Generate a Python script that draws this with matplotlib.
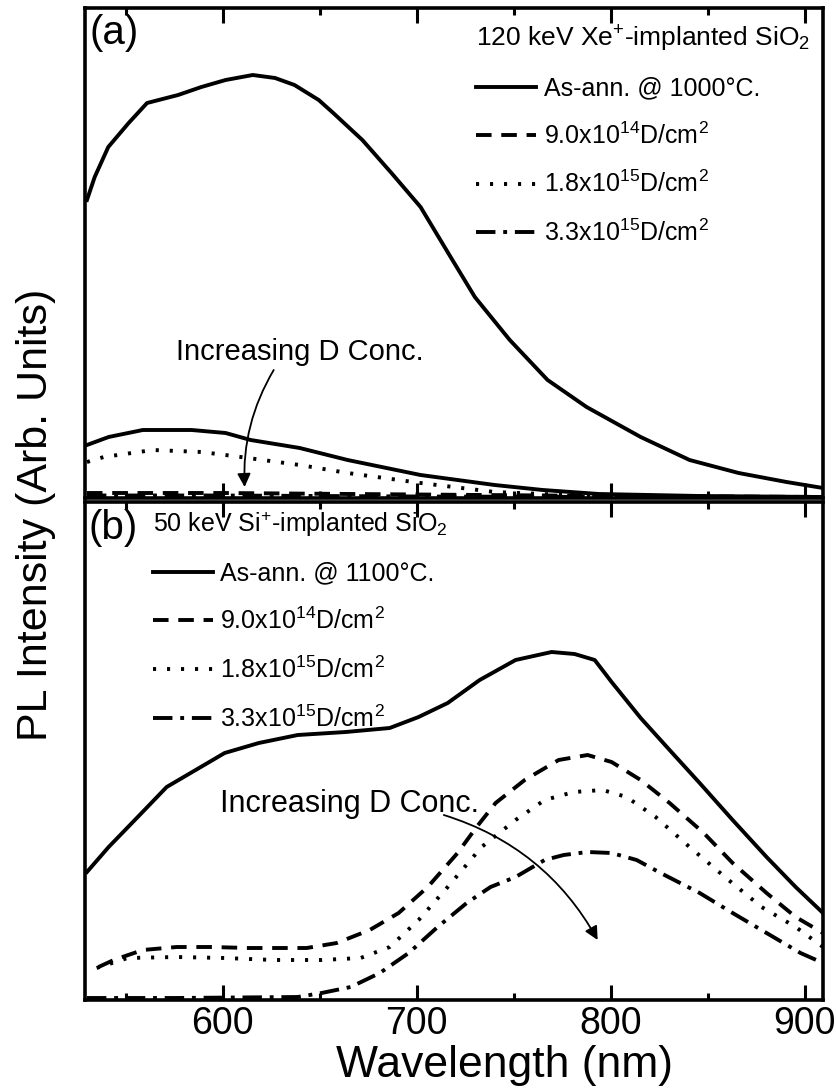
import numpy as np
import matplotlib
matplotlib.use('Agg')
import matplotlib.pyplot as plt
from matplotlib.ticker import MultipleLocator

plt.rcParams['font.family'] = ['Liberation Sans', 'DejaVu Sans']
plt.rcParams['mathtext.fontset'] = 'custom'
plt.rcParams['mathtext.rm'] = 'Liberation Sans'
plt.rcParams['mathtext.it'] = 'Liberation Sans:italic'
plt.rcParams['mathtext.bf'] = 'Liberation Sans:bold'

# ---- panel (a): 120 keV Xe+ implanted SiO2 ----
wl_a_ann = [530, 534, 541, 551.5, 561, 577, 589, 601.5, 615.5, 627, 637, 649.5, 657, 672, 687,
            702, 717.5, 730, 748, 767.5, 787.6, 815.5, 840.7, 866, 890.7, 909.5]
pl_a_ann = [298, 321, 351, 375, 395, 403, 411, 418, 423, 420, 413, 398, 385, 358, 325,
            291, 241, 201, 158, 118, 91, 61, 38, 25, 16, 10]
wl_a_d1 = [530, 541.2, 558.8, 584, 601.5, 614.4, 639.7, 664.4, 702, 740.2, 765, 794, 845.9, 909.5]
pl_a_d1 = [53, 61, 68, 68, 65, 58, 50, 38, 23, 13, 8, 4, 2, 1]
wl_a_d2 = [530, 538.7, 563.9, 589.2, 609.3, 639.7, 664.4, 702, 740.2, 777.8, 802.6, 845.9, 909.5]
pl_a_d2 = [36, 41, 48, 46, 41, 33, 25, 15, 6, 3, 1, 1, 0.5]
wl_a_d3 = [530, 600, 700, 800, 909.5]
pl_a_d3 = [2.5, 2.5, 1.5, 1, 0.5]
wl_a_d4 = [530, 600, 700, 800, 909.5]
pl_a_d4 = [5, 5, 3.5, 2, 1]

# ---- panel (b): 50 keV Si+ implanted SiO2 ----
wl_b_ann = [530, 541.2, 556.2, 571.1, 588.7, 601, 618.6, 638.7, 663.4, 686.1, 701, 716, 732.5,
            751, 769.6, 781.4, 791.8, 800.5, 815.5, 830.4, 845.9, 862.9, 880.4, 895.4, 909.5]
pl_b_ann = [128, 153, 183, 213, 233, 247, 257, 265, 268, 272, 283, 297, 320,
            340, 348, 346, 340, 318, 282, 250, 217, 180, 143, 113, 87]
wl_b_d1 = [536, 543.8, 558.8, 576.3, 593.8, 613.4, 643.3, 658.8, 675.8, 690.7, 705.7, 721.1, 730.9,
           740.7, 755.7, 773.2, 788.1, 800.5, 815.5, 830.4, 848, 862.9, 880.4, 895.4, 909.5]
pl_b_d1 = [33, 40, 50, 53, 53, 52, 52, 57, 70, 87, 113, 147, 173,
           197, 220, 240, 245, 238, 220, 197, 167, 137, 107, 83, 67]
wl_b_d2 = [535, 551, 576.3, 601, 626.3, 651, 671.1, 686.1, 701, 716, 733.5, 751, 766, 781,
           795.9, 808.2, 823.2, 840.7, 860.8, 877.8, 895.4, 909.5]
pl_b_d2 = [32, 42, 43, 42, 40, 40, 42, 53, 80, 113, 153, 180, 200, 208,
           210, 203, 183, 153, 120, 93, 73, 53]
wl_b_d3 = [530, 576, 638.7, 651, 666, 681, 695.9, 710.8, 725.8, 738.1, 751, 766, 775.8, 788.1,
           800.5, 813.4, 825.8, 845.9, 862.9, 880.4, 897.9, 909.5]
pl_b_d3 = [2, 2, 3, 7, 13, 27, 47, 73, 97, 113, 123, 140, 145, 148,
           147, 140, 127, 107, 87, 67, 47, 37]

labels = ['9.0x10$^{14}$D/cm$^{2}$', '1.8x10$^{15}$D/cm$^{2}$', '3.3x10$^{15}$D/cm$^{2}$']

DASH = (4, 2.5)
DOT = (0.8, 2.8)
DASHDOT = (5, 2, 1, 2)
lw = 2.8

fig = plt.figure(figsize=(8.36, 10.89), dpi=100)
ax1 = fig.add_axes([85/836, 1-498/1089, 738/836, 490/1089])
ax2 = fig.add_axes([85/836, 1-1000/1089, 738/836, 498/1089])

#==============================================================================
l0, = ax1.plot(wl_a_ann, pl_a_ann, 'k-', lw=lw)
ax1.plot(wl_a_d1, pl_a_d1, 'k-', lw=lw)
l2, = ax1.plot(wl_a_d2, pl_a_d2, 'k', lw=lw, dashes=DOT)
l3, = ax1.plot(wl_a_d3, pl_a_d3, 'k', lw=lw, dashes=DASHDOT)
ax1.plot(wl_a_d4, pl_a_d4, 'k', lw=lw, dashes=DASH)
l1, = ax1.plot([], [], 'k', lw=lw, dashes=DASH)
leg = ax1.legend([l0, l1, l2, l3], ['As-ann. @ 1000°C.'] + labels,
                 title='120 keV Xe$^{+}$-implanted SiO$_{2}$', alignment='left',
                 loc='upper left', bbox_to_anchor=(0.53, 0.967), frameon=False,
                 fontsize=18, title_fontsize=19, handlelength=2.4, handletextpad=0.3,
                 labelspacing=0.88, borderpad=0, borderaxespad=0)
ax1.text(0.006, 0.987, '(a)', transform=ax1.transAxes, va='top', ha='left', fontsize=29)
ax1.text(300/1.94 + 485, 146, 'Increasing D Conc.', ha='center', va='center', fontsize=21)
ax1.annotate('', xy=(611.3, 11), xytext=(626.3, 128),
             arrowprops=dict(arrowstyle='-|>', color='k', lw=1.3, mutation_scale=20,
                             connectionstyle='arc3,rad=0.15', shrinkA=0, shrinkB=0))
ax1.set_ylim(0, 490)
#==============================================================================
l0, = ax2.plot(wl_b_ann, pl_b_ann, 'k-', lw=lw)
l1, = ax2.plot(wl_b_d1, pl_b_d1, 'k', lw=lw, dashes=DASH)
l2, = ax2.plot(wl_b_d2, pl_b_d2, 'k', lw=lw, dashes=DOT)
l3, = ax2.plot(wl_b_d3, pl_b_d3, 'k', lw=lw, dashes=DASHDOT)
leg = ax2.legend([l0, l1, l2, l3], ['As-ann. @ 1100°C.'] + labels,
                 title='50 keV Si$^{+}$-implanted SiO$_{2}$', alignment='left',
                 loc='upper left', bbox_to_anchor=(0.092, 0.985), frameon=False,
                 fontsize=18, title_fontsize=18, handlelength=2.4, handletextpad=0.3,
                 labelspacing=0.9, borderpad=0, borderaxespad=0)
ax2.text(0.005, 0.985, '(b)', transform=ax2.transAxes, va='top', ha='left', fontsize=29)
ax2.text(665.5, 196, 'Increasing D Conc.', ha='center', va='center', fontsize=22)
ax2.annotate('', xy=(793.3, 60), xytext=(714, 185),
             arrowprops=dict(arrowstyle='-|>', color='k', lw=1.3, mutation_scale=20,
                             connectionstyle='arc3,rad=-0.2', shrinkA=0, shrinkB=0))
ax2.set_ylim(0, 498)

for ax in (ax1, ax2):
    ax.set_xlim(529, 909.5)
    ax.xaxis.set_major_locator(MultipleLocator(100))
    ax.xaxis.set_minor_locator(MultipleLocator(50))
    ax.tick_params(which='both', direction='in', top=True, bottom=True,
                   left=False, right=False, labelleft=False, width=2.2)
    ax.tick_params(which='major', length=11, labelsize=27, pad=4)
    ax.tick_params(which='minor', length=5)
    for s in ax.spines.values():
        s.set_linewidth(2.6)
ax1.tick_params(labelbottom=False)

fig.text(505/836, 1-1065/1089, 'Wavelength (nm)', ha='center', va='center', fontsize=32)
fig.text(36/836, 1-515/1089, 'PL Intensity (Arb. Units)', ha='center', va='center',
         rotation=90, fontsize=31)

fig.savefig('out.png', dpi=100)
